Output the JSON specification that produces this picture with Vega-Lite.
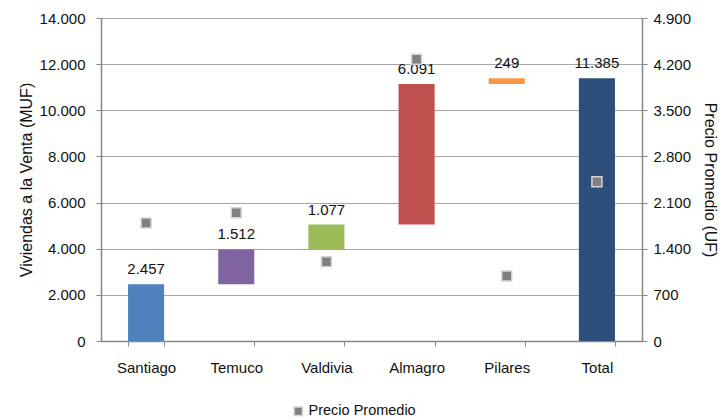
{
  "$schema": "https://vega.github.io/schema/vega-lite/v6.json",
  "width": 541,
  "height": 323,
  "autosize": "none",
  "padding": {"left": 101, "top": 18, "right": 79, "bottom": 78},
  "background": "white",
  "config": {
    "locale": {"number": {"decimal": ",", "thousands": ".", "grouping": [3], "currency": ["$", ""]}},
    "font": "Liberation Sans",
    "view": {"stroke": null},
    "axis": {"labelFont": "Liberation Sans", "titleFont": "Liberation Sans", "labelColor": "#111", "titleColor": "#111", "titleFontWeight": "normal", "labelFontSize": 15, "titleFontSize": 16, "domainColor": "#888", "tickColor": "#888", "gridColor": "#a6a6a6", "domainWidth": 1.5}
  },
  "data": {"values": [
    {"cat": "Santiago", "start": 0, "end": 2457, "amount": 2457, "price": 1790, "serie": "Precio Promedio"},
    {"cat": "Temuco", "start": 2457, "end": 3969, "amount": 1512, "price": 1946, "serie": "Precio Promedio"},
    {"cat": "Valdivia", "start": 3969, "end": 5046, "amount": 1077, "price": 1203, "serie": "Precio Promedio"},
    {"cat": "Almagro", "start": 5046, "end": 11137, "amount": 6091, "price": 4273, "serie": "Precio Promedio"},
    {"cat": "Pilares", "start": 11137, "end": 11386, "amount": 249, "price": 986, "serie": "Precio Promedio"},
    {"cat": "Total", "start": 0, "end": 11385, "amount": 11385, "price": 2417, "serie": "Precio Promedio"}
  ]},
  "encoding": {
    "x": {"field": "cat", "type": "nominal", "sort": null,
      "scale": {"paddingInner": 0.6, "paddingOuter": 0.3},
      "axis": {"title": null, "labelAngle": 0, "tickBand": "extent", "tickSize": 5, "labelPadding": 14, "domainColor": "#888"}}
  },
  "layer": [
    {
      "layer": [
        {
          "mark": {"type": "bar"},
          "encoding": {
            "y": {"field": "start", "type": "quantitative", "scale": {"domain": [0, 14000], "nice": false},
              "axis": {"title": "Viviendas a la Venta (MUF)", "values": [0, 2000, 4000, 6000, 8000, 10000, 12000, 14000], "format": ",d", "grid": true, "tickSize": 5, "labelPadding": 11, "titlePadding": 5}},
            "y2": {"field": "end"},
            "color": {"field": "cat", "type": "nominal", "legend": null,
              "scale": {"domain": ["Santiago", "Temuco", "Valdivia", "Almagro", "Pilares", "Total"], "range": ["#4F81BD", "#8064A2", "#9BBB59", "#C0504D", "#F79646", "#2E4F7B"]}}
          }
        },
        {
          "mark": {"type": "text", "baseline": "middle", "dy": -15, "fontSize": 15, "color": "#111"},
          "encoding": {
            "y": {"field": "end", "type": "quantitative"},
            "text": {"field": "amount", "type": "quantitative", "format": ",d"}
          }
        }
      ]
    },
    {
      "mark": {"type": "point", "shape": "square", "filled": true, "size": 100, "stroke": "#d4d4d4", "strokeWidth": 1.5, "opacity": 1},
      "encoding": {
        "y": {"field": "price", "type": "quantitative", "scale": {"domain": [0, 4900], "nice": false},
          "axis": {"orient": "right", "title": "Precio Promedio (UF)", "values": [0, 700, 1400, 2100, 2800, 3500, 4200, 4900], "format": ",d", "grid": false, "tickSize": 5, "labelPadding": 6, "titlePadding": 11}},
        "fill": {"field": "serie", "type": "nominal", "scale": {"range": ["#808080"]},
          "legend": {"title": null, "orient": "none", "legendX": 190, "legendY": 386, "symbolType": "square", "symbolSize": 70, "symbolStrokeColor": "#d4d4d4", "labelFontSize": 14.5, "labelFont": "Liberation Sans", "labelColor": "#111", "labelOffset": 3}}
      }
    }
  ],
  "resolve": {"scale": {"y": "independent", "color": "independent"}}
}
